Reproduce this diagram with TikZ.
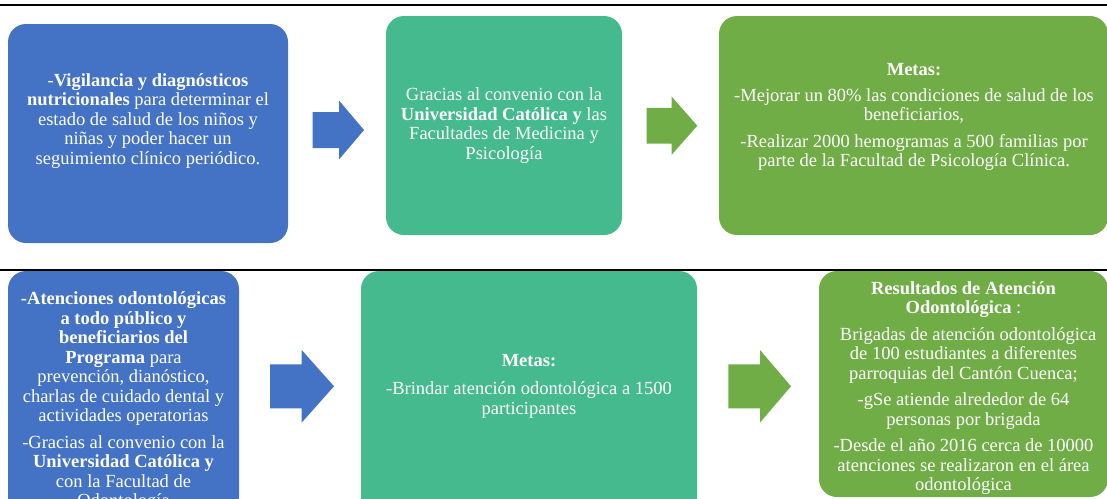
\documentclass[tikz,border=0pt]{standalone}
\usepackage{fontspec}
\setmainfont{Liberation Serif}
\definecolor{cblue}{HTML}{4472C4}
\definecolor{cteal}{HTML}{44BA8E}
\definecolor{cgreen}{HTML}{70AD47}
\newcommand{\blockarr}[8]{%
  \fill[#1] (#2,{#5-#7}) coordinate (#8s) -- (#3,{#5-#7}) -- (#3,{#5-#6}) -- (#4,#5) coordinate (#8t) -- (#3,{#5+#6}) -- (#3,{#5+#7}) -- (#2,{#5+#7}) -- cycle;}
\tikzset{
  box/.style={rectangle, rounded corners=18pt, inner sep=0pt, draw=none},
  txt/.style={text=white, align=center, inner sep=0pt, font=\fontsize{18.5}{19.5}\selectfont},
  rule/.style={line width=2pt, black},
}
\begin{document}
\begin{tikzpicture}[x=1pt,y=-1pt]
\useasboundingbox (0,0) rectangle (1107,498);
\clip (0,0) rectangle (1107,498);
% rules
\coordinate (r1a) at (0,5); \coordinate (r1b) at (1107,5);
\coordinate (r2a) at (0,269.5); \coordinate (r2b) at (1107,269.5);
\draw[rule] (r1a) -- (r1b);
\draw[rule] (r2a) -- (r2b);
% top row boxes
\node[box, fill=cblue, minimum width=280, minimum height=219] (b1) at (148,133.5) {};
\node[box, fill=cteal, minimum width=236, minimum height=219] (b2) at (504,125.5) {};
\node[box, fill=cgreen, minimum width=389, minimum height=219] (b3) at (913.5,125.5) {};
% bottom row boxes
\node[box, fill=cblue, minimum width=231, minimum height=244] (b4) at (123.5,393) {};
\node[box, fill=cteal, minimum width=336, minimum height=244] (b5) at (529,393) {};
\node[box, fill=cgreen, minimum width=289, minimum height=226] (b6) at (963.5,384) {};
% arrows
\blockarr{cblue}{312.7}{339}{364}{130}{29.5}{18}{a1}
\blockarr{cgreen}{646.7}{671.7}{697.3}{125.7}{29}{17.8}{a2}
\blockarr{cblue}{270}{301.7}{334}{386.3}{36.3}{22}{a3}
\blockarr{cgreen}{728.3}{760}{791}{386.3}{36.3}{22}{a4}
% texts
\node[txt] (t1) at (148,121) {-\textbf{Vigilancia y diagnósticos}\\\textbf{nutricionales} para determinar el\\estado de salud de los niños y\\niñas y poder hacer un\\seguimiento clínico periódico.};
\node[txt] (t2) at (504,125.5) {Gracias al convenio con la\\\textbf{Universidad Católica y} las\\Facultades de Medicina y\\Psicología};
\node[txt] (t3) at (914,117) {\textbf{Metas:}\\[6pt]-Mejorar un 80\% las condiciones de salud de los\\beneficiarios,\\[7pt]-Realizar 2000 hemogramas a 500 familias por\\parte de la Facultad de Psicología Clínica.};
\node[txt] (t4) at (123.5,401.5) {\textbf{-Atenciones odontológicas}\\\textbf{a todo público y}\\\textbf{beneficiarios del}\\\textbf{Programa} para\\prevención, dianóstico,\\charlas de cuidado dental y\\actividades operatorias\\[7pt]-Gracias al convenio con la\\\textbf{Universidad Católica y}\\con la Facultad de\\Odontología};
\node[txt] (t5) at (529,386) {\textbf{Metas:}\\[9pt]-Brindar atención odontológica a 1500\\participantes};
\node[txt] (t6) at (963.5,388) {\textbf{Resultados de Atención}\\\textbf{Odontológica} :\\[7pt]\hspace*{0.5em}Brigadas de atención odontológica\\de 100 estudiantes a diferentes\\parroquias del Cantón Cuenca;\\[7pt]-gSe atiende alrededor de 64\\personas por brigada\\[7pt]-Desde el año 2016 cerca de 10000\\atenciones se realizaron en el área\\odontológica};
\end{tikzpicture}
\end{document}
